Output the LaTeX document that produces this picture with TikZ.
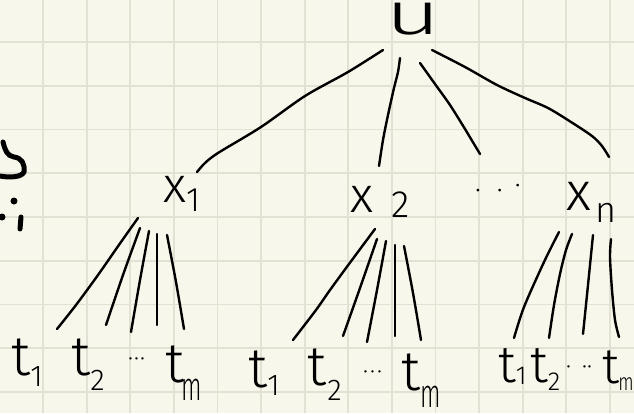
\documentclass[tikz,border=0pt]{standalone}
\usepackage{fontspec}
\setmainfont{Fira Sans}[UprightFont=* Light]
\usepackage{graphicx}
\definecolor{paper}{HTML}{F8F7EB}
\definecolor{gridc}{HTML}{E2E1D4}
\newcommand\fs[1]{\fontsize{#1}{#1}\selectfont}
\newcommand\dropby[2]{\raisebox{-#1pt}{#2}}
\newcommand\sbs{\fs{30}}
\newcommand\tallm{\scalebox{0.6}[1]{\fs{40}m}}
\begin{document}
\begin{tikzpicture}[x=1pt,y=-1pt,
  edge/.style={line width=2.4pt, line cap=round, line join=round},
  ink/.style={line width=5pt, line cap=round, line join=round},
  lab/.style={inner sep=0pt, anchor=base west},
  tlab/.style={lab, font=\fs{56}},
  dotlab/.style={lab, font=\fs{24}}]
% paper and squared grid
\fill[paper] (0,0) rectangle (634,413);
\useasboundingbox (0,0) rectangle (634,413);
\foreach \i in {1,...,14} \draw[gridc, line width=1.8pt] ({43.6*\i-0.5},0) -- ({43.6*\i-0.5},413);
\foreach \j in {0,...,8} \draw[gridc, line width=1.8pt] (0,{42+43.75*\j}) -- (634,{42+43.75*\j});

% ink marks at the left edge
\draw[ink] (3,142) .. controls (5,150) and (7,156) .. (14,157) .. controls (22,158) and (25,164) .. (24,172) .. controls (22,177) and (10,178) .. (0,176);
\fill (14,201) circle (3.5);
\fill (2,217) circle (3.5);
\draw[ink] (21,217) -- (20,229);

% root
\node[lab, font=\fs{60}] (u) at (385,34) {\scalebox{1.6}[1]{u}};

% second level
\node[lab, font=\fs{50}] (x1) at (163,202) {x\dropby{9}{\fs{34}1}};
\node[lab, font=\fs{50}] (x2) at (350,212) {x\hspace{18pt}\dropby{5}{\fs{38}2}};
\node[dotlab, font=\fs{28}] (xd) at (475,199) {·\hspace{16pt}·\hspace{12pt}\raisebox{5pt}{·}};
\node[lab, font=\fs{54}] (xn) at (566,210) {x\hspace{5pt}\dropby{12}{\fs{36}n}};

% leaves under x1
\node[tlab] (t11) at (11,375) {t\hspace{0pt}\dropby{11}{\sbs 1}};
\node[tlab] (t12) at (71,375) {t\hspace{0pt}\dropby{15}{\sbs 2}};
\node[dotlab] (d1) at (128,366) {·\hspace{1pt}·\hspace{1pt}·};
\node[tlab] (t1m) at (165,382) {t\hspace{-3pt}\dropby{18}{\tallm}};
% leaves under x2
\node[tlab] (t21) at (248,387) {t\hspace{0pt}\dropby{8}{\sbs 1}};
\node[tlab] (t22) at (307,385) {t\hspace{1pt}\dropby{15}{\sbs 2}};
\node[dotlab] (d2) at (363,379) {·\hspace{2pt}·\hspace{2pt}·};
\node[tlab] (t2m) at (401,390) {t\hspace{0pt}\dropby{17}{\tallm}};
% leaves under xn
\node[tlab, font=\fs{52}] (t31) at (498,382) {t\hspace{0pt}\dropby{2}{\fs{26}1}};
\node[tlab, font=\fs{52}] (t32) at (530,382) {t\hspace{0pt}\dropby{8}{\fs{26}2}};
\node[dotlab] (d3) at (566,374) {·\hspace{11pt}·\hspace{0pt}·};
\node[tlab, font=\fs{50}] (t3m) at (602,383) {t\hspace{-1pt}\dropby{7}{\scalebox{0.75}[1]{\fs{24}m}}};

% stroke ends beside the labels
\coordinate (u-1) at (383,50);  \coordinate (x1-top) at (197,172);
\coordinate (u-2) at (400,58);  \coordinate (x2-top) at (379,166);
\coordinate (u-3) at (420,63);  \coordinate (xd-top) at (480,154);
\coordinate (u-4) at (432,50);  \coordinate (xn-top) at (609,157);

% root to second level
\draw[edge] plot[smooth] coordinates {(x1-top) (205,163) (218,153) (261,127) (305,96) (348,72) (u-1)};
\draw[edge] plot[smooth] coordinates {(u-2) (398,72) (394,88) (388,115) (383,140) (x2-top)};
\draw[edge] plot[smooth] coordinates {(u-3) (435,84) (450,105) (465,129) (xd-top)};
\draw[edge] plot[smooth] coordinates {(u-4) (465,67) (497,85) (525,98) (548,108) (571,122) (592,136) (602,146) (xn-top)};

% x1 to its leaves
\coordinate (x1-1) at (138,218); \coordinate (t11-top) at (57,329);
\coordinate (x1-2) at (140,228); \coordinate (t12-top) at (106,325);
\coordinate (x1-3) at (149,231); \coordinate (d1-top) at (131,332);
\coordinate (x1-4) at (157,234); \coordinate (t1a-top) at (157,325);
\coordinate (x1-5) at (167,235); \coordinate (t1m-top) at (184,329);
\draw[edge] plot[smooth] coordinates {(x1-1) (121,242) (98,275) (76,305) (t11-top)};
\draw[edge] plot[smooth] coordinates {(x1-2) (123,275) (t12-top)};
\draw[edge] plot[smooth] coordinates {(x1-3) (140,280) (d1-top)};
\draw[edge] (x1-4) -- (t1a-top);
\draw[edge] plot[smooth] coordinates {(x1-5) (176,282) (t1m-top)};

% x2 to its leaves
\coordinate (x2-1) at (375,229); \coordinate (t21-top) at (293,340);
\coordinate (x2-2) at (377,239); \coordinate (t22-top) at (343,336);
\coordinate (x2-3) at (386,241); \coordinate (d2-top) at (367,342);
\coordinate (x2-4) at (395,245); \coordinate (t2a-top) at (395,336);
\coordinate (x2-5) at (404,246); \coordinate (t2m-top) at (421,340);
\draw[edge] plot[smooth] coordinates {(x2-1) (349,264) (330,290) (316,310) (t21-top)};
\draw[edge] plot[smooth] coordinates {(x2-2) (360,288) (t22-top)};
\draw[edge] plot[smooth] coordinates {(x2-3) (377,290) (d2-top)};
\draw[edge] (x2-4) -- (t2a-top);
\draw[edge] plot[smooth] coordinates {(x2-5) (413,293) (t2m-top)};

% xn to its leaves
\coordinate (xn-1) at (559,232); \coordinate (t31-top) at (514,338);
\coordinate (xn-2) at (572,234); \coordinate (t32-top) at (549,338);
\coordinate (xn-3) at (593,235); \coordinate (d3-top) at (583,334);
\coordinate (xn-4) at (611,239); \coordinate (t3m-top) at (619,337);
\draw[edge] plot[smooth] coordinates {(xn-1) (544,262) (524,307) (t31-top)};
\draw[edge] plot[smooth] coordinates {(xn-2) (566,250) (560,274) (554,305) (t32-top)};
\draw[edge] plot[smooth] coordinates {(xn-3) (588,285) (d3-top)};
\draw[edge] plot[smooth] coordinates {(xn-4) (610,257) (612,290) (615,320) (t3m-top)};
\end{tikzpicture}
\end{document}
